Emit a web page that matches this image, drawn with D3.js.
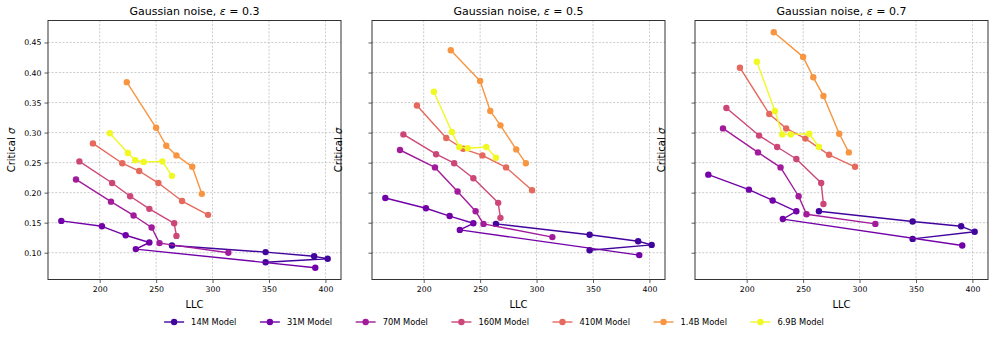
<!DOCTYPE html>
<html>
<head>
<meta charset="utf-8">
<script src="https://cdn.jsdelivr.net/npm/d3@7"></script>
<style>
  body { margin: 0; background: #fff; }
  text { font-family: 'DejaVu Sans', sans-serif; fill: #000; }
</style>
</head>
<body>
<div id="chart"></div>
<script>
let models = ['14M Model', '31M Model', '70M Model', '160M Model', '410M Model', '1.4B Model', '6.9B Model']
let colorStops = [0.1, 0.22, 0.35, 0.5, 0.62, 0.75, 1.0]

let epsilons = ['0.3', '0.5', '0.7']

// LLC per checkpoint, same for every noise level
let llc = [
  [264, 347, 390, 402, 347],
  [166, 202, 223, 244, 232, 391],
  [179, 210, 230, 246, 253, 314],
  [182, 211, 227, 244, 266, 268],
  [194, 220, 235, 252, 273, 296],
  [224, 250, 259, 268, 282, 290.5],
  [209, 225, 231.5, 239, 255.5, 264]
]

let sigmaEps03 = [
  [0.112, 0.101, 0.094, 0.090, 0.084],
  [0.153, 0.144, 0.129, 0.117, 0.106, 0.075],
  [0.222, 0.185, 0.162, 0.142, 0.116, 0.100],
  [0.252, 0.216, 0.194, 0.173, 0.149, 0.128],
  [0.282, 0.249, 0.236, 0.216, 0.186, 0.163],
  [0.384, 0.308, 0.278, 0.262, 0.243, 0.198],
  [0.299, 0.266, 0.254, 0.251, 0.252, 0.228]
]

let sigmaEps05 = [
  [0.148, 0.130, 0.119, 0.113, 0.104],
  [0.191, 0.174, 0.161, 0.149, 0.138, 0.096],
  [0.271, 0.242, 0.202, 0.169, 0.148, 0.126],
  [0.297, 0.264, 0.249, 0.224, 0.183, 0.158],
  [0.345, 0.291, 0.273, 0.262, 0.242, 0.204],
  [0.437, 0.386, 0.336, 0.312, 0.272, 0.249],
  [0.368, 0.301, 0.276, 0.274, 0.276, 0.258]
]

let sigmaEps07 = [
  [0.169, 0.152, 0.144, 0.135, 0.123],
  [0.230, 0.205, 0.187, 0.169, 0.156, 0.112],
  [0.307, 0.267, 0.242, 0.194, 0.164, 0.148],
  [0.341, 0.295, 0.276, 0.256, 0.216, 0.181],
  [0.408, 0.331, 0.307, 0.290, 0.263, 0.243],
  [0.467, 0.426, 0.392, 0.361, 0.298, 0.267],
  [0.418, 0.336, 0.297, 0.297, 0.298, 0.276]
]

let xTicks = [200, 250, 300, 350, 400]
let yTicks = [0.10, 0.15, 0.20, 0.25, 0.30, 0.35, 0.40, 0.45]

let panels = [sigmaEps03, sigmaEps05, sigmaEps07]

let width = 996
let height = 338
let panelLefts = [48, 372, 695]
let panelWidth = 293
let plotTop = 20.5
let plotBottom = 279.5
let plotHeight = plotBottom - plotTop

let colors = colorStops.map(t => d3.interpolatePlasma(t))

// matplotlib style 5% padding around the data
function padded(values) {
  let [lo, hi] = d3.extent(values)
  let pad = (hi - lo) * 0.05
  return [lo - pad, hi + pad]
}

let xScale = d3.scaleLinear()
  .domain(padded(llc.flat()))
  .range([0, panelWidth])

let yScale = d3.scaleLinear()
  .domain(padded(panels.flat(2)))
  .range([plotHeight, 0])

let line = d3.line()
  .x(d => xScale(d[0]))
  .y(d => yScale(d[1]))

let svg = d3.select('#chart').append('svg')
  .attr('width', width)
  .attr('height', height)

panels.forEach((sigmas, p) => {
  let holder = svg.append('g')
    .attr('transform', `translate(${panelLefts[p]},${plotTop})`)

  // grid
  holder.append('g')
    .selectAll('line')
    .data(xTicks)
    .enter().append('line')
    .attr('x1', d => xScale(d)).attr('x2', d => xScale(d))
    .attr('y1', 0).attr('y2', plotHeight)
    .attr('stroke', '#b0b0b0').attr('stroke-width', 0.8)
    .attr('stroke-dasharray', '2,1.6').attr('opacity', 0.8)

  holder.append('g')
    .selectAll('line')
    .data(yTicks)
    .enter().append('line')
    .attr('x1', 0).attr('x2', panelWidth)
    .attr('y1', d => yScale(d)).attr('y2', d => yScale(d))
    .attr('stroke', '#b0b0b0').attr('stroke-width', 0.8)
    .attr('stroke-dasharray', '2,1.6').attr('opacity', 0.8)

  let xAxis = holder.append('g')
    .attr('transform', `translate(0,${plotHeight})`)
    .call(d3.axisBottom(xScale).tickValues(xTicks).tickSize(3.5).tickPadding(3).tickFormat(d3.format('d')))
  let yAxis = holder.append('g')
    .call(d3.axisLeft(yScale).tickValues(yTicks).tickSize(3.5).tickPadding(3)
      .tickFormat(p === 0 ? d3.format('.2f') : ''))

  for (let ax of [xAxis, yAxis]) {
    ax.select('.domain').remove()
    ax.selectAll('.tick line').attr('stroke', '#333').attr('stroke-width', 0.8)
    ax.selectAll('.tick text')
      .attr('font-family', 'DejaVu Sans').attr('font-size', 7.8).attr('fill', '#000')
  }

  // series: line, then markers on top
  sigmas.forEach((ys, i) => {
    let points = ys.map((y, k) => [llc[i][k], y])
    let g = holder.append('g')
    g.append('path')
      .datum(points)
      .attr('d', line)
      .attr('fill', 'none')
      .attr('stroke', colors[i])
      .attr('stroke-width', 1.4)
      .attr('stroke-linejoin', 'round')
    g.selectAll('circle')
      .data(points)
      .enter().append('circle')
      .attr('cx', d => xScale(d[0]))
      .attr('cy', d => yScale(d[1]))
      .attr('r', 3.2)
      .attr('fill', colors[i])
  })

  // frame
  holder.append('rect')
    .attr('width', panelWidth)
    .attr('height', plotHeight)
    .attr('fill', 'none')
    .attr('stroke', '#333')
    .attr('stroke-width', 1)

  let title = holder.append('text')
    .attr('x', panelWidth / 2)
    .attr('y', -6)
    .attr('text-anchor', 'middle')
    .attr('font-size', 11)
  title.append('tspan').text('Gaussian noise, ')
  title.append('tspan').attr('font-style', 'italic').text('ε')
  title.append('tspan').text(' = ' + epsilons[p])

  holder.append('text')
    .attr('x', panelWidth / 2)
    .attr('y', plotHeight + 28)
    .attr('text-anchor', 'middle')
    .attr('font-size', 10)
    .text('LLC')

  let yLabel = holder.append('text')
    .attr('transform', `translate(${p === 0 ? -33 : -30},${plotHeight / 2}) rotate(-90)`)
    .attr('text-anchor', 'middle')
    .attr('font-size', 10)
  yLabel.append('tspan').text('Critical ')
  yLabel.append('tspan').attr('font-style', 'italic').text('σ')
})

// legend, centred under the figure
let legend = svg.append('g').attr('transform', 'translate(0,322)')
let entries = legend.selectAll('g')
  .data(models)
  .enter().append('g')

entries.append('line')
  .attr('x1', 0).attr('x2', 20)
  .attr('stroke', (d, i) => colors[i])
  .attr('stroke-width', 1.4)
entries.append('circle')
  .attr('cx', 10)
  .attr('r', 3.2)
  .attr('fill', (d, i) => colors[i])
entries.append('text')
  .attr('x', 27)
  .attr('dy', '0.35em')
  .attr('font-size', 8.3)
  .text(d => d)

let offsets = []
let cursor = 0
let colSpace = 23.5
entries.each(function(d, i) {
  let w = d3.select(this).select('text').node().getComputedTextLength()
  offsets.push(cursor)
  cursor += 27 + w + colSpace
})
let total = cursor - colSpace
let start = 494 - total / 2
entries.attr('transform', (d, i) => `translate(${start + offsets[i]},0)`)
</script>
</body>
</html>
